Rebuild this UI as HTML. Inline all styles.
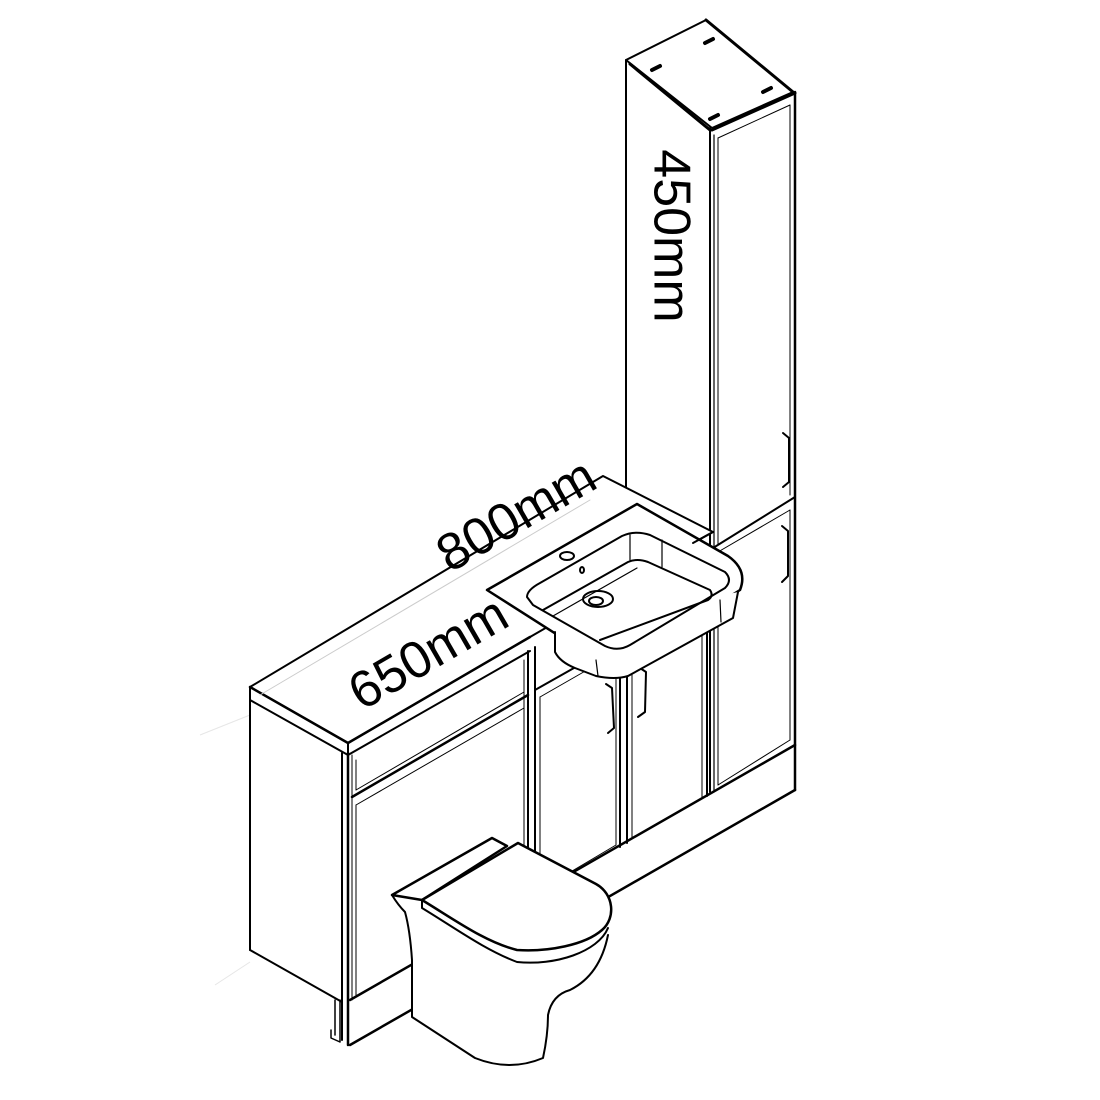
<!DOCTYPE html>
<html><head><meta charset="utf-8"><style>
html,body{margin:0;padding:0;background:#fff}
svg{display:block}
text{font-family:"Liberation Sans","DejaVu Sans",sans-serif;fill:#000}
</style></head><body>
<svg width="1100" height="1100" viewBox="0 0 1100 1100" xmlns="http://www.w3.org/2000/svg">
<rect width="1100" height="1100" fill="#fff"/>
<g stroke="#e6e6e6" stroke-width="1" fill="none">
<line x1="200" y1="735" x2="250" y2="715"/>
<line x1="215" y1="985" x2="250" y2="962"/>
</g>
<g stroke="#000" stroke-width="2" fill="none" stroke-linejoin="round" stroke-linecap="round">
<!-- Tall cabinet -->
<polygon points="626,60 706,20 793,92 712,128" fill="#fff"/>
<line x1="630" y1="64" x2="710" y2="130" stroke-width="3"/>
<line x1="712" y1="130" x2="795" y2="93" stroke-width="3"/>
<line x1="706" y1="20" x2="793" y2="92" stroke-width="3"/>
<g stroke-width="4"><line x1="652" y1="70" x2="660" y2="66"/><line x1="705" y1="43" x2="713" y2="39"/><line x1="763" y1="92" x2="771" y2="88"/><line x1="710" y1="119" x2="718" y2="115"/></g>
<line x1="626" y1="60" x2="626" y2="490"/>
<line x1="710" y1="128" x2="710" y2="792"/>
<line x1="714" y1="135" x2="714" y2="792" stroke-width="1.2"/>
<line x1="718" y1="138" x2="718" y2="545" stroke-width="1"/>
<line x1="795" y1="92" x2="795" y2="790" stroke-width="2.5"/>
<line x1="790" y1="105" x2="790" y2="495" stroke-width="1"/>
<line x1="718" y1="138" x2="790" y2="105" stroke-width="1"/>
<line x1="713" y1="548" x2="795" y2="497"/>
<line x1="718" y1="552" x2="790" y2="510" stroke-width="1"/>
<line x1="790" y1="510" x2="790" y2="740" stroke-width="1"/>
<line x1="718" y1="552" x2="718" y2="785" stroke-width="1"/>
<line x1="718" y1="785" x2="790" y2="740" stroke-width="1"/>
<path d="M783,433 L789,438 L789,482 L783,487"/>
<path d="M782,526 L788,531 L788,576 L782,582"/>
<!-- plinth -->
<line x1="350" y1="1000" x2="795" y2="745" stroke-width="2.5"/>
<line x1="350" y1="1045" x2="795" y2="790" stroke-width="2.5"/>
<line x1="795" y1="745" x2="795" y2="790"/>
<!-- left cabinet side -->
<line x1="250" y1="700" x2="250" y2="950"/>
<line x1="250" y1="950" x2="342" y2="1002"/>
<line x1="342" y1="753" x2="342" y2="1040"/>
<line x1="348" y1="753" x2="348" y2="1045" stroke-width="2.5"/>
<line x1="352" y1="755" x2="352" y2="1000" stroke-width="1"/>
<path d="M335,1000 L335,1035 M340,1000 L340,1042 M331,1030 L331,1038 L340,1042" stroke-width="1.5"/>
<!-- counter -->
<polygon points="250,687 603,476 713,532 693,543 530,637 348,743" fill="#fff"/>
<polyline points="250,687 250,700 348,755 530,651"/>
<line x1="348" y1="743" x2="348" y2="755"/>
<line x1="250" y1="687" x2="348" y2="743" stroke-width="2.5"/>
<line x1="348" y1="743" x2="530" y2="637" stroke-width="2.5"/>
<line x1="260" y1="695" x2="590" y2="500" stroke="#ccc" stroke-width="1"/>
<!-- left cabinet front -->
<line x1="352" y1="797" x2="528" y2="695" stroke-width="2.5"/>
<line x1="356" y1="790" x2="524" y2="692" stroke-width="1"/>
<line x1="356" y1="760" x2="356" y2="790" stroke-width="1"/>
<line x1="356" y1="805" x2="356" y2="995" stroke-width="1"/>
<line x1="356" y1="805" x2="524" y2="708" stroke-width="1"/>
<line x1="524" y1="660" x2="524" y2="895" stroke-width="1"/>
<line x1="528" y1="651" x2="528" y2="898"/>
<line x1="535" y1="647" x2="535" y2="895"/>
<!-- middle -->
<line x1="535" y1="690" x2="620" y2="642" stroke-width="2"/>
<line x1="540" y1="697" x2="615" y2="654" stroke-width="1"/>
<line x1="540" y1="697" x2="540" y2="890" stroke-width="1"/>
<line x1="616" y1="654" x2="616" y2="845" stroke-width="1"/>
<line x1="620" y1="640" x2="620" y2="847"/>
<line x1="627" y1="638" x2="627" y2="843"/>
<line x1="632" y1="640" x2="632" y2="838" stroke-width="1"/>
<line x1="702" y1="600" x2="702" y2="798" stroke-width="1"/>
<line x1="707" y1="598" x2="707" y2="796"/>
<line x1="632" y1="838" x2="702" y2="798" stroke-width="1"/>
<line x1="540" y1="890" x2="616" y2="845" stroke-width="1"/>
<path d="M606,684 L612,688 L614,728 L608,733"/>
<path d="M640,668 L646,672 L645,712 L638,717"/>
<!-- sink -->
<path d="M487,590 L637,504 L728,556 Q748,570 740,590 L628,660 Q615,668 600,662 Z" fill="#fff" stroke-width="2.5"/>
<path d="M555,632 L555,652 Q560,662 575,668 L596,676 Q615,680 628,676 L733,618 L738,592" fill="#fff"/>
<line x1="596" y1="660" x2="598" y2="676" stroke-width="1.2"/>
<line x1="720" y1="600" x2="721" y2="622" stroke-width="1.2"/>
<path d="M527,597 Q527,590 540,583 L622,536 Q635,530 650,535 L725,572 Q733,580 725,588 L630,645 Q618,652 605,646 L533,605 Z" stroke-width="2"/>
<path d="M543,610 L628,562 Q637,558 648,562 L710,590 Q714,596 708,600 L600,640"/>
<line x1="553" y1="616" x2="637" y2="568" stroke-width="1.2"/>
<line x1="630" y1="535" x2="630" y2="560" stroke-width="1.2"/>
<line x1="662" y1="540" x2="662" y2="567" stroke-width="1.2"/>
<ellipse cx="598" cy="599" rx="15" ry="8"/>
<ellipse cx="596" cy="601" rx="7" ry="4"/>
<ellipse cx="567" cy="556" rx="7" ry="4"/>
<ellipse cx="582" cy="570" rx="2" ry="3"/>
<line x1="693" y1="543" x2="713" y2="532"/>
<!-- toilet -->
<path d="M392,895 Q398,905 405,912 Q410,930 412,960 L412,1017 L475,1058 Q510,1072 543,1058 Q548,1035 548,1015 Q552,995 570,990 Q600,975 608,935 L600,890 L505,846 Z" fill="#fff" stroke="none"/>
<path d="M392,895 Q398,905 405,912 Q410,930 412,960 L412,1017 L475,1058 Q510,1072 543,1058 Q548,1035 548,1015 Q552,995 570,990 Q600,975 608,935" stroke-width="2"/>
<polygon points="392,895 492,838 507,846 422,900" fill="#fff" stroke-width="2.5"/>
<path d="M422,900 L518,843 L596,884 C614,894 616,918 602,930 C585,945 548,952 517,950 C485,942 455,920 422,900 Z" fill="#fff" stroke-width="2.5"/>
<path d="M422,900 L422,908 C455,928 485,950 517,962 C555,966 598,952 608,928" stroke-width="2"/>
</g>
<text x="0" y="0" font-size="52" transform="translate(518,518) rotate(-30)" text-anchor="middle" dominant-baseline="middle">800mm</text>
<text x="0" y="0" font-size="52" transform="translate(430,656) rotate(-30)" text-anchor="middle" dominant-baseline="middle">650mm</text>
<text x="0" y="0" font-size="52" transform="translate(668,236) rotate(90)" text-anchor="middle" dominant-baseline="middle">450mm</text>
</svg>
</body></html>
